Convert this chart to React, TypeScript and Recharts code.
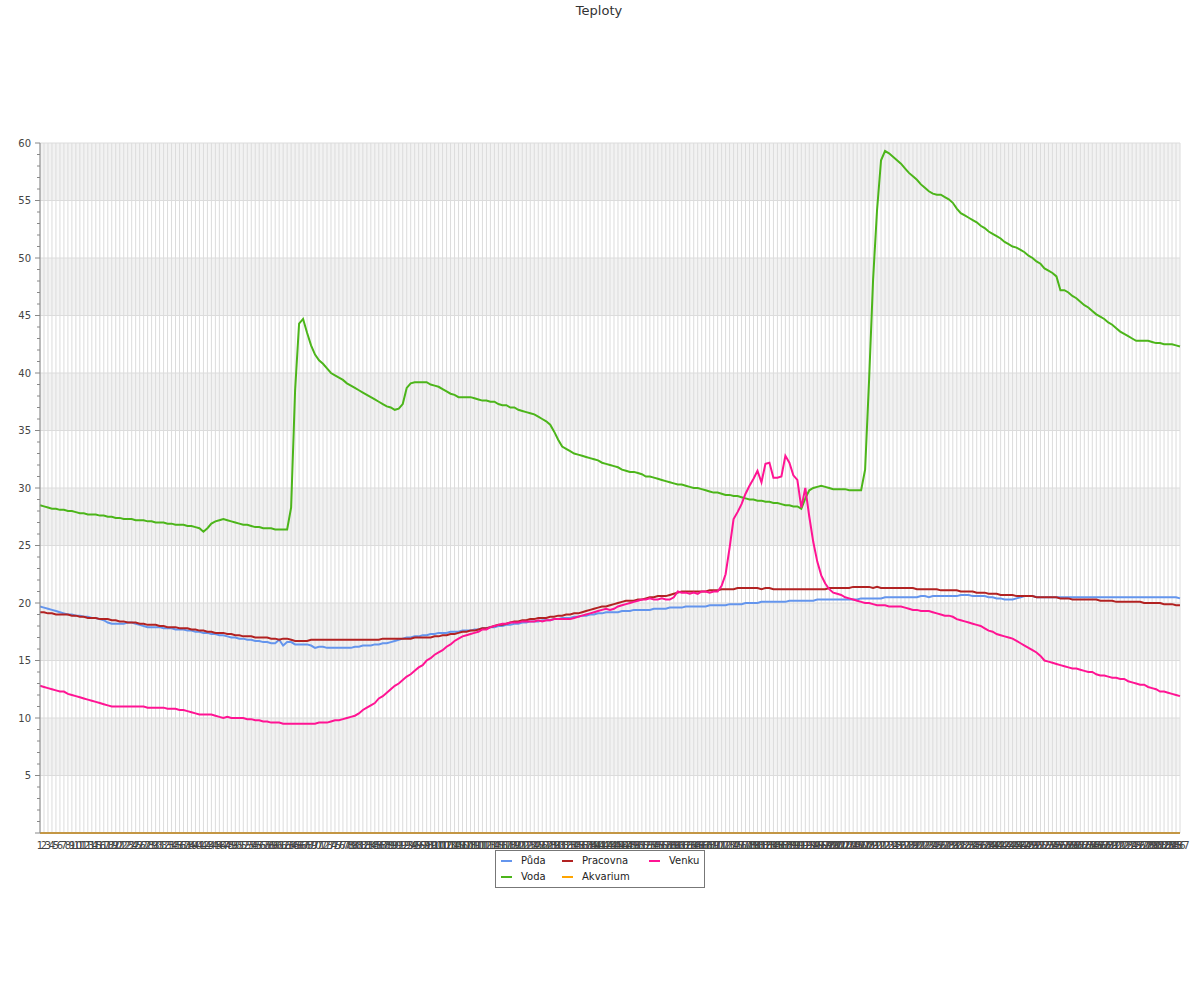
import * as React from 'react';
import { LineChart, Line, XAxis, YAxis, CartesianGrid, Legend } from 'recharts';

const days: string[] = Array.from({ length: 287 }, (_, i) => String(i + 1));

const puda = [
  19.7, 19.6, 19.5, 19.4, 19.3, 19.2, 19.1, 19.0, 19.0, 18.9,
  18.9, 18.8, 18.8, 18.7, 18.7, 18.6, 18.5, 18.3, 18.2, 18.2,
  18.2, 18.2, 18.3, 18.3, 18.2, 18.1, 18.0, 17.9, 17.9, 17.9,
  17.9, 17.8, 17.8, 17.8, 17.7, 17.7, 17.7, 17.6, 17.6, 17.5,
  17.5, 17.4, 17.4, 17.3, 17.3, 17.2, 17.2, 17.1, 17.0, 17.0,
  16.9, 16.9, 16.8, 16.8, 16.7, 16.7, 16.6, 16.6, 16.5, 16.5,
  16.8, 16.3, 16.6, 16.6, 16.4, 16.4, 16.4, 16.4, 16.3, 16.1,
  16.2, 16.2, 16.1, 16.1, 16.1, 16.1, 16.1, 16.1, 16.1, 16.2,
  16.2, 16.3, 16.3, 16.3, 16.4, 16.4, 16.5, 16.5, 16.6, 16.7,
  16.8, 16.9, 17.0, 17.0, 17.1, 17.1, 17.2, 17.2, 17.3, 17.3,
  17.4, 17.4, 17.4, 17.5, 17.5, 17.5, 17.6, 17.6, 17.6, 17.7,
  17.7, 17.8, 17.8, 17.9, 17.9, 18.0, 18.0, 18.1, 18.1, 18.2,
  18.2, 18.3, 18.3, 18.4, 18.4, 18.4, 18.5, 18.5, 18.5, 18.6,
  18.6, 18.7, 18.7, 18.7, 18.8, 18.8, 18.9, 18.9, 19.0, 19.0,
  19.1, 19.1, 19.2, 19.2, 19.2, 19.2, 19.3, 19.3, 19.3, 19.4,
  19.4, 19.4, 19.4, 19.4, 19.5, 19.5, 19.5, 19.5, 19.6, 19.6,
  19.6, 19.6, 19.7, 19.7, 19.7, 19.7, 19.7, 19.7, 19.8, 19.8,
  19.8, 19.8, 19.8, 19.9, 19.9, 19.9, 19.9, 20.0, 20.0, 20.0,
  20.0, 20.1, 20.1, 20.1, 20.1, 20.1, 20.1, 20.1, 20.2, 20.2,
  20.2, 20.2, 20.2, 20.2, 20.2, 20.3, 20.3, 20.3, 20.3, 20.3,
  20.3, 20.3, 20.3, 20.3, 20.3, 20.3, 20.4, 20.4, 20.4, 20.4,
  20.4, 20.4, 20.5, 20.5, 20.5, 20.5, 20.5, 20.5, 20.5, 20.5,
  20.5, 20.6, 20.6, 20.5, 20.6, 20.6, 20.6, 20.6, 20.6, 20.6,
  20.6, 20.7, 20.7, 20.7, 20.6, 20.6, 20.6, 20.6, 20.5, 20.5,
  20.4, 20.4, 20.3, 20.3, 20.3, 20.4, 20.5, 20.6, 20.6, 20.6,
  20.5, 20.5, 20.5, 20.5, 20.5, 20.5, 20.5, 20.5, 20.5, 20.5,
  20.5, 20.5, 20.5, 20.5, 20.5, 20.5, 20.5, 20.5, 20.5, 20.5,
  20.5, 20.5, 20.5, 20.5, 20.5, 20.5, 20.5, 20.5, 20.5, 20.5,
  20.5, 20.5, 20.5, 20.5, 20.5, 20.5, 20.4,
];

const voda = [
  28.5, 28.4, 28.3, 28.2, 28.2, 28.1, 28.1, 28.0, 28.0, 27.9,
  27.8, 27.8, 27.7, 27.7, 27.7, 27.6, 27.6, 27.5, 27.5, 27.4,
  27.4, 27.3, 27.3, 27.3, 27.2, 27.2, 27.2, 27.1, 27.1, 27.0,
  27.0, 27.0, 26.9, 26.9, 26.8, 26.8, 26.8, 26.7, 26.7, 26.6,
  26.5, 26.2, 26.5, 26.9, 27.1, 27.2, 27.3, 27.2, 27.1, 27.0,
  26.9, 26.8, 26.8, 26.7, 26.6, 26.6, 26.5, 26.5, 26.5, 26.4,
  26.4, 26.4, 26.4, 28.3, 38.5, 44.3, 44.7, 43.5, 42.4, 41.6,
  41.1, 40.8, 40.4, 40.0, 39.8, 39.6, 39.4, 39.1, 38.9, 38.7,
  38.5, 38.3, 38.1, 37.9, 37.7, 37.5, 37.3, 37.1, 37.0, 36.8,
  36.9, 37.3, 38.7, 39.1, 39.2, 39.2, 39.2, 39.2, 39.0, 38.9,
  38.8, 38.6, 38.4, 38.2, 38.1, 37.9, 37.9, 37.9, 37.9, 37.8,
  37.7, 37.6, 37.6, 37.5, 37.5, 37.3, 37.2, 37.2, 37.0, 37.0,
  36.8, 36.7, 36.6, 36.5, 36.4, 36.2, 36.0, 35.8, 35.5, 34.9,
  34.2, 33.6, 33.4, 33.2, 33.0, 32.9, 32.8, 32.7, 32.6, 32.5,
  32.4, 32.2, 32.1, 32.0, 31.9, 31.8, 31.6, 31.5, 31.4, 31.4,
  31.3, 31.2, 31.0, 31.0, 30.9, 30.8, 30.7, 30.6, 30.5, 30.4,
  30.3, 30.3, 30.2, 30.1, 30.0, 30.0, 29.9, 29.8, 29.7, 29.6,
  29.6, 29.5, 29.4, 29.4, 29.3, 29.3, 29.2, 29.1, 29.0, 29.0,
  28.9, 28.9, 28.8, 28.8, 28.7, 28.7, 28.6, 28.5, 28.5, 28.4,
  28.4, 28.2, 29.1, 29.8, 30.0, 30.1, 30.2, 30.1, 30.0, 29.9,
  29.9, 29.9, 29.9, 29.8, 29.8, 29.8, 29.8, 31.6, 39.4, 48.1,
  54.2, 58.5, 59.3, 59.1, 58.8, 58.5, 58.2, 57.8, 57.4, 57.1,
  56.8, 56.4, 56.1, 55.8, 55.6, 55.5, 55.5, 55.3, 55.1, 54.8,
  54.3, 53.9, 53.7, 53.5, 53.3, 53.1, 52.8, 52.6, 52.3, 52.1,
  51.9, 51.7, 51.4, 51.2, 51.0, 50.9, 50.7, 50.5, 50.2, 50.0,
  49.7, 49.5, 49.1, 48.9, 48.7, 48.4, 47.2, 47.2, 47.0, 46.7,
  46.5, 46.2, 45.9, 45.7, 45.4, 45.1, 44.9, 44.7, 44.4, 44.2,
  43.9, 43.6, 43.4, 43.2, 43.0, 42.8, 42.8, 42.8, 42.8, 42.7,
  42.6, 42.6, 42.5, 42.5, 42.5, 42.4, 42.3,
];

const pracovna = [
  19.2, 19.2, 19.1, 19.1, 19.0, 19.0, 19.0, 19.0, 18.9, 18.9,
  18.8, 18.8, 18.7, 18.7, 18.7, 18.6, 18.6, 18.6, 18.5, 18.5,
  18.4, 18.4, 18.3, 18.3, 18.3, 18.2, 18.2, 18.1, 18.1, 18.1,
  18.0, 18.0, 17.9, 17.9, 17.9, 17.8, 17.8, 17.8, 17.7, 17.7,
  17.6, 17.6, 17.5, 17.5, 17.4, 17.4, 17.4, 17.3, 17.3, 17.2,
  17.2, 17.1, 17.1, 17.1, 17.0, 17.0, 17.0, 17.0, 16.9, 16.9,
  16.8, 16.9, 16.9, 16.8, 16.7, 16.7, 16.7, 16.7, 16.8, 16.8,
  16.8, 16.8, 16.8, 16.8, 16.8, 16.8, 16.8, 16.8, 16.8, 16.8,
  16.8, 16.8, 16.8, 16.8, 16.8, 16.8, 16.9, 16.9, 16.9, 16.9,
  16.9, 16.9, 16.9, 16.9, 17.0, 17.0, 17.0, 17.0, 17.0, 17.1,
  17.1, 17.2, 17.2, 17.3, 17.3, 17.4, 17.5, 17.5, 17.6, 17.6,
  17.7, 17.8, 17.8, 17.9, 18.0, 18.1, 18.1, 18.2, 18.3, 18.4,
  18.4, 18.5, 18.5, 18.6, 18.6, 18.7, 18.7, 18.7, 18.8, 18.8,
  18.9, 18.9, 19.0, 19.0, 19.1, 19.1, 19.2, 19.3, 19.4, 19.5,
  19.6, 19.7, 19.7, 19.8, 19.9, 20.0, 20.1, 20.2, 20.2, 20.2,
  20.3, 20.3, 20.4, 20.5, 20.5, 20.6, 20.6, 20.6, 20.7, 20.8,
  20.9, 21.0, 21.0, 21.0, 21.0, 21.0, 21.0, 21.0, 21.1, 21.1,
  21.1, 21.2, 21.2, 21.2, 21.2, 21.3, 21.3, 21.3, 21.3, 21.3,
  21.3, 21.2, 21.3, 21.3, 21.2, 21.2, 21.2, 21.2, 21.2, 21.2,
  21.2, 21.2, 21.2, 21.2, 21.2, 21.2, 21.2, 21.2, 21.3, 21.3,
  21.3, 21.3, 21.3, 21.3, 21.4, 21.4, 21.4, 21.4, 21.4, 21.3,
  21.4, 21.3, 21.3, 21.3, 21.3, 21.3, 21.3, 21.3, 21.3, 21.3,
  21.2, 21.2, 21.2, 21.2, 21.2, 21.2, 21.1, 21.1, 21.1, 21.1,
  21.1, 21.0, 21.0, 21.0, 21.0, 20.9, 20.9, 20.9, 20.8, 20.8,
  20.8, 20.7, 20.7, 20.7, 20.7, 20.6, 20.6, 20.6, 20.6, 20.6,
  20.5, 20.5, 20.5, 20.5, 20.5, 20.5, 20.4, 20.4, 20.4, 20.3,
  20.3, 20.3, 20.3, 20.3, 20.3, 20.3, 20.2, 20.2, 20.2, 20.2,
  20.1, 20.1, 20.1, 20.1, 20.1, 20.1, 20.1, 20.0, 20.0, 20.0,
  20.0, 20.0, 19.9, 19.9, 19.9, 19.8, 19.8,
];

const akvarium = [
  0, 0, 0, 0, 0, 0, 0, 0, 0, 0, 0, 0, 0, 0, 0, 0, 0, 0, 0, 0,
  0, 0, 0, 0, 0, 0, 0, 0, 0, 0, 0, 0, 0, 0, 0, 0, 0, 0, 0, 0,
  0, 0, 0, 0, 0, 0, 0, 0, 0, 0, 0, 0, 0, 0, 0, 0, 0, 0, 0, 0,
  0, 0, 0, 0, 0, 0, 0, 0, 0, 0, 0, 0, 0, 0, 0, 0, 0, 0, 0, 0,
  0, 0, 0, 0, 0, 0, 0, 0, 0, 0, 0, 0, 0, 0, 0, 0, 0, 0, 0, 0,
  0, 0, 0, 0, 0, 0, 0, 0, 0, 0, 0, 0, 0, 0, 0, 0, 0, 0, 0, 0,
  0, 0, 0, 0, 0, 0, 0, 0, 0, 0, 0, 0, 0, 0, 0, 0, 0, 0, 0, 0,
  0, 0, 0, 0, 0, 0, 0, 0, 0, 0, 0, 0, 0, 0, 0, 0, 0, 0, 0, 0,
  0, 0, 0, 0, 0, 0, 0, 0, 0, 0, 0, 0, 0, 0, 0, 0, 0, 0, 0, 0,
  0, 0, 0, 0, 0, 0, 0, 0, 0, 0, 0, 0, 0, 0, 0, 0, 0, 0, 0, 0,
  0, 0, 0, 0, 0, 0, 0, 0, 0, 0, 0, 0, 0, 0, 0, 0, 0, 0, 0, 0,
  0, 0, 0, 0, 0, 0, 0, 0, 0, 0, 0, 0, 0, 0, 0, 0, 0, 0, 0, 0,
  0, 0, 0, 0, 0, 0, 0, 0, 0, 0, 0, 0, 0, 0, 0, 0, 0, 0, 0, 0,
  0, 0, 0, 0, 0, 0, 0, 0, 0, 0, 0, 0, 0, 0, 0, 0, 0, 0, 0, 0,
  0, 0, 0, 0, 0, 0, 0,
];

const venku = [
  12.8, 12.7, 12.6, 12.5, 12.4, 12.3, 12.3, 12.1, 12.0, 11.9,
  11.8, 11.7, 11.6, 11.5, 11.4, 11.3, 11.2, 11.1, 11.0, 11.0,
  11.0, 11.0, 11.0, 11.0, 11.0, 11.0, 11.0, 10.9, 10.9, 10.9,
  10.9, 10.9, 10.8, 10.8, 10.8, 10.7, 10.7, 10.6, 10.5, 10.4,
  10.3, 10.3, 10.3, 10.3, 10.2, 10.1, 10.0, 10.1, 10.0, 10.0,
  10.0, 10.0, 9.9, 9.9, 9.8, 9.8, 9.7, 9.7, 9.6, 9.6,
  9.6, 9.5, 9.5, 9.5, 9.5, 9.5, 9.5, 9.5, 9.5, 9.5,
  9.6, 9.6, 9.6, 9.7, 9.8, 9.8, 9.9, 10.0, 10.1, 10.2,
  10.4, 10.7, 10.9, 11.1, 11.3, 11.7, 11.9, 12.2, 12.5, 12.8,
  13.0, 13.3, 13.6, 13.8, 14.1, 14.4, 14.6, 15.0, 15.2, 15.5,
  15.7, 15.9, 16.2, 16.4, 16.7, 16.9, 17.1, 17.2, 17.3, 17.4,
  17.5, 17.7, 17.7, 17.9, 18.0, 18.1, 18.2, 18.2, 18.3, 18.3,
  18.3, 18.4, 18.4, 18.4, 18.4, 18.5, 18.4, 18.5, 18.5, 18.6,
  18.6, 18.6, 18.6, 18.6, 18.7, 18.8, 18.9, 19.0, 19.1, 19.2,
  19.3, 19.4, 19.5, 19.4, 19.5, 19.7, 19.8, 19.9, 20.0, 20.1,
  20.2, 20.3, 20.3, 20.4, 20.3, 20.3, 20.4, 20.3, 20.3, 20.5,
  21.0, 20.9, 20.9, 20.8, 20.9, 20.8, 21.0, 21.0, 20.9, 21.0,
  21.0, 21.5, 22.5, 24.8, 27.3, 27.9, 28.6, 29.5, 30.2, 30.8,
  31.5, 30.5, 32.1, 32.2, 30.9, 30.9, 31.0, 32.8, 32.2, 31.1,
  30.7, 28.3, 30.0, 27.5, 25.3, 23.6, 22.4, 21.7, 21.2, 20.9,
  20.8, 20.7, 20.5, 20.4, 20.3, 20.2, 20.1, 20.0, 20.0, 19.9,
  19.8, 19.8, 19.8, 19.7, 19.7, 19.7, 19.7, 19.6, 19.5, 19.4,
  19.4, 19.3, 19.3, 19.3, 19.2, 19.1, 19.0, 18.9, 18.9, 18.8,
  18.6, 18.5, 18.4, 18.3, 18.2, 18.1, 18.0, 17.8, 17.6, 17.5,
  17.3, 17.2, 17.1, 17.0, 16.9, 16.7, 16.5, 16.3, 16.1, 15.9,
  15.7, 15.4, 15.0, 14.9, 14.8, 14.7, 14.6, 14.5, 14.4, 14.3,
  14.3, 14.2, 14.1, 14.0, 14.0, 13.8, 13.7, 13.7, 13.6, 13.5,
  13.5, 13.4, 13.4, 13.2, 13.1, 13.0, 12.9, 12.9, 12.7, 12.6,
  12.5, 12.3, 12.3, 12.2, 12.1, 12.0, 11.9,
];

const yMax = 60;
const yTicks = Array.from({ length: 61 }, (_, i) => i);
const gridValues = [0, 5, 10, 15, 20, 25, 30, 35, 40, 45, 50, 55, 60];

const series = [
  { key: 'puda', name: 'Půda', color: '#6495ed' },
  { key: 'voda', name: 'Voda', color: '#4cb51a' },
  { key: 'pracovna', name: 'Pracovna', color: '#b22222' },
  { key: 'akvarium', name: 'Akvarium', color: '#ffa500' },
  { key: 'venku', name: 'Venku', color: '#ff1493' },
];

const data = days.map((day, i) => ({
  day,
  puda: puda[i],
  voda: voda[i],
  pracovna: pracovna[i],
  akvarium: akvarium[i],
  venku: venku[i],
}));

const font = '"DejaVu Sans", sans-serif';

const YTick = (props: any) => {
  const { x, y, payload } = props;
  const v = payload.value;
  const major = v % 5 === 0;
  return (
    <g>
      <line x1={x - (major ? 5 : 3)} x2={x} y1={y} y2={y} stroke="#888" />
      {major && v !== 0 && (
        <text x={x - 9} y={y} dy="0.35em" textAnchor="end" fontSize={10} fill="#444" fontFamily={font}>
          {v}
        </text>
      )}
    </g>
  );
};

// grid lines only every 5 degrees
const gridRows = (props: any) => {
  const { yAxis, offset } = props;
  if (yAxis && typeof yAxis.scale === 'function') return gridValues.map((v) => yAxis.scale(v));
  return gridValues.map((v) => offset.top + offset.height * (1 - v / yMax));
};

const LegendBox = () => (
  <div
    style={{
      border: '1px solid #777',
      background: '#fff',
      display: 'grid',
      gridTemplateColumns: '61px 87px 55px',
      padding: '3px 0 3px 5px',
      rowGap: 2,
      fontFamily: font,
      fontSize: 10,
      color: '#222',
      lineHeight: '14px',
    }}
  >
    {[series[0], series[2], series[4], series[1], series[3]].map((s) => (
      <div key={s.key} style={{ display: 'flex', alignItems: 'center' }}>
        <span style={{ display: 'inline-block', width: 11, height: 2, background: s.color, marginRight: 9 }} />
        {s.name}
      </div>
    ))}
  </div>
);

export default function App() {
  return (
    <div style={{ position: 'absolute', left: 0, top: 0, width: 1200, height: 1000, background: '#fff' }}>
      <div
        style={{
          position: 'absolute',
          top: 3,
          left: 0,
          width: 1198,
          textAlign: 'center',
          fontFamily: font,
          fontSize: 13,
          color: '#333',
        }}
      >
        Teploty
      </div>
      <LineChart width={1200} height={1000} data={data} margin={{ top: 143, right: 20, left: 0, bottom: 99 }}>
        <CartesianGrid
          stroke="#dcdcdc"
          horizontalFill={['#f2f2f2', '#ffffff']}
          fillOpacity={1}
          horizontalCoordinatesGenerator={gridRows}
        />
        <XAxis
          dataKey="day"
          interval={0}
          tickLine={false}
          tickSize={0}
          tickMargin={9}
          stroke="#888"
          tick={{ fontSize: 10, fill: '#444', fontFamily: font }}
          height={30}
        />
        <YAxis
          width={40}
          domain={[0, yMax]}
          ticks={yTicks}
          interval={0}
          tickLine={false}
          tickSize={0}
          tickMargin={0}
          stroke="#888"
          tick={<YTick />}
        />
        {series.map((s) => (
          <Line
            key={s.key}
            type="linear"
            dataKey={s.key}
            name={s.name}
            stroke={s.color}
            strokeWidth={2}
            dot={false}
            isAnimationActive={false}
          />
        ))}
        <Legend content={<LegendBox />} wrapperStyle={{ position: 'absolute', top: 850, left: 495, width: 'auto' }} />
      </LineChart>
    </div>
  );
}
